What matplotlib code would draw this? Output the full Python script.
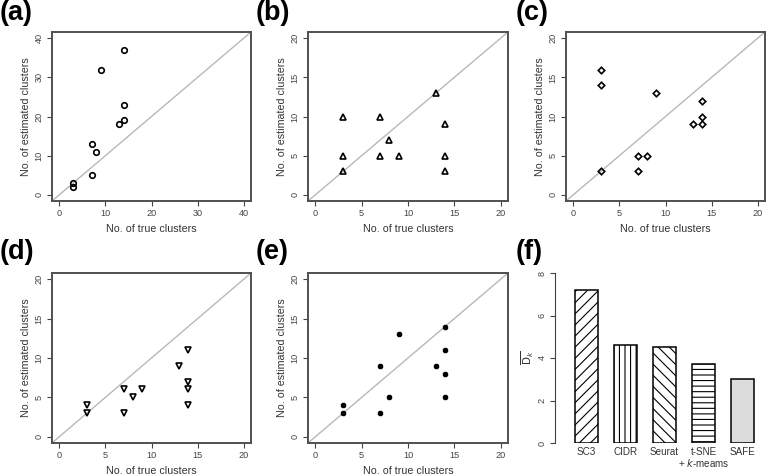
import numpy as np
import matplotlib
matplotlib.use('Agg')
import matplotlib.pyplot as plt

plt.rcParams['font.family'] = ['Liberation Sans', 'DejaVu Sans']
plt.rcParams['hatch.linewidth'] = 0.8

# scatter panels: true vs estimated number of clusters
true_a = [3, 3, 7, 7, 8, 9, 13, 14, 14, 14]
est_a = [2, 3, 5, 13, 11, 32, 18, 19, 23, 37]
true_b = [3, 3, 3, 7, 7, 8, 9, 13, 14, 14, 14]
est_b = [10, 5, 3, 10, 5, 7, 5, 13, 9, 5, 3]
true_c = [3, 3, 3, 7, 7, 8, 9, 13, 14, 14, 14]
est_c = [16, 14, 3, 5, 3, 5, 13, 9, 12, 10, 9]
true_d = [3, 3, 7, 7, 8, 9, 13, 14, 14, 14, 14]
est_d = [4, 3, 6, 3, 5, 6, 9, 11, 7, 6, 4]
true_e = [3, 3, 7, 7, 8, 9, 13, 14, 14, 14, 14]
est_e = [4, 3, 9, 3, 5, 13, 9, 14, 11, 8, 5]

# bar panel
methods = ['SC3', 'CIDR', 'Seurat', 't-SNE\n+ $\\it{k}$-meams', 'SAFE']
dk = [7.2, 4.6, 4.5, 3.7, 3.0]

W, H = 767, 476
fig = plt.figure(figsize=(W / 100, H / 100), dpi=100)

def box(l, t, r, b):
    return [l / W, 1 - b / H, (r - l) / W, (b - t) / H]

frame_col = '#505050'
tick_col = '#444444'

def scatter_panel(rect, x, y, lim, step, marker, filled=False, ms=4):
    ax = fig.add_axes(rect)
    pad = lim * 0.04
    ax.set_xlim(-pad, lim + pad)
    ax.set_ylim(-pad, lim + pad)
    ax.plot([-pad, lim + pad], [-pad, lim + pad], color='#b8b8b8', lw=1.0, zorder=1)
    if filled:
        ax.plot(x, y, linestyle='none', marker=marker, ms=ms, mfc='black', mec='black', zorder=3)
    else:
        ax.plot(x, y, linestyle='none', marker=marker, ms=ms, mfc='none', mec='black', mew=1.2, zorder=3)
    ticks = np.arange(0, lim + 1, step)
    ax.set_xticks(ticks)
    ax.set_yticks(ticks)
    ax.tick_params(length=3.5, width=0.8, color=tick_col, labelcolor=tick_col, labelsize=6.6, pad=2.5)
    for lab in ax.get_yticklabels():
        lab.set_rotation(90)
        lab.set_va('center')
    for s in ax.spines.values():
        s.set_color(frame_col)
        s.set_linewidth(1.4)
    ax.set_xlabel('No. of true clusters', fontsize=7.7, color='#333333', labelpad=4)
    ax.set_ylabel('No. of estimated clusters', fontsize=7.7, color='#333333', labelpad=2.5)
    return ax

scatter_panel(box(52, 32, 251, 201), true_a, est_a, 40, 10, 'o')
scatter_panel(box(308, 32, 508, 201), true_b, est_b, 20, 5, '^', ms=4)
scatter_panel(box(566, 32, 765, 201), true_c, est_c, 20, 5, 'D', ms=3.3)
scatter_panel(box(52, 273, 251, 443), true_d, est_d, 20, 5, 'v', ms=4)
scatter_panel(box(308, 273, 508, 443), true_e, est_e, 20, 5, '8', filled=True, ms=3.8)

# (f) bar chart
axf = fig.add_axes(box(555, 273, 765, 443))
hatches = ['///', '|||', '\\\\\\', '---', '']
faces = ['white', 'white', 'white', 'white', '#dcdcdc']
pos = np.arange(len(methods))
for i in range(len(methods)):
    axf.bar(pos[i], dk[i], width=0.61, color=faces[i], edgecolor='black',
            linewidth=1.1, hatch=hatches[i], zorder=2)
axf.set_xlim(-0.81, 4.58)
axf.set_ylim(0, 8)
for s in ['top', 'right', 'bottom']:
    axf.spines[s].set_visible(False)
axf.spines['left'].set_color(tick_col)
axf.spines['left'].set_linewidth(0.8)
axf.set_yticks([0, 2, 4, 6, 8])
axf.tick_params(axis='y', length=3.5, width=0.8, color=tick_col, labelcolor=tick_col, labelsize=6.6, pad=2.5)
for lab in axf.get_yticklabels():
    lab.set_rotation(90)
    lab.set_va('center')
axf.set_xticks(pos)
axf.set_xticklabels(methods, fontsize=7.1, color='#333333', va='top', linespacing=1.0)
axf.tick_params(axis='x', length=0, pad=3)
axf.set_ylabel(r'$\overline{\mathrm{D}_k}$', fontsize=7.5, color='#333333', labelpad=1)

# panel letters
labels = [('(a)', 0, 0), ('(b)', 256, 0), ('(c)', 516, 0),
          ('(d)', 0, 239), ('(e)', 256, 239), ('(f)', 516, 239)]
for txt, px, py in labels:
    fig.text(px / W, 1 - py / H, txt, fontsize=19.5, fontweight='bold', va='top', ha='left')

fig.savefig('out.png', dpi=100)
